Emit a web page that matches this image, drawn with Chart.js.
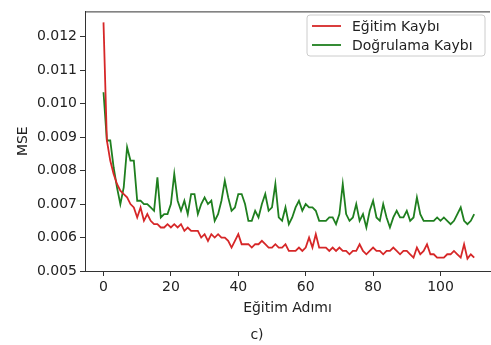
<!DOCTYPE html>
<html>
<head>
<meta charset="utf-8">
<script src="https://cdn.jsdelivr.net/npm/chart.js@4.4.0/dist/chart.umd.min.js"></script>
<style>
  html, body { margin: 0; padding: 0; background: #fff; }
  #wrap { width: 491px; height: 345px; }
</style>
</head>
<body>
<div id="wrap"><canvas id="lossChart" width="491" height="345"></canvas></div>
<script>
// datos
const trainLoss = [
  0.01243, 0.0089, 0.0083, 0.0079, 0.0076, 0.0074, 0.0073, 0.0072, 0.0070, 0.0069,
  0.0066, 0.0069, 0.0065, 0.0067, 0.0065, 0.0064, 0.0064, 0.0063, 0.0063, 0.0064,
  0.0063, 0.0064, 0.0063, 0.0064, 0.0062, 0.0063, 0.0062, 0.0062, 0.0062, 0.0060,
  0.0061, 0.0059, 0.0061, 0.0060, 0.0061, 0.0060, 0.0060, 0.0059, 0.0057, 0.0059,
  0.0061, 0.0058, 0.0058, 0.0058, 0.0057, 0.0058, 0.0058, 0.0059, 0.0058, 0.0057,
  0.0057, 0.0058, 0.0057, 0.0057, 0.0058, 0.0056, 0.0056, 0.0056, 0.0057, 0.0056,
  0.0057, 0.0060, 0.0057, 0.0061, 0.0057, 0.0057, 0.0057, 0.0056, 0.0057, 0.0056,
  0.0057, 0.0056, 0.0056, 0.0055, 0.0056, 0.0056, 0.0058, 0.0056, 0.0055, 0.0056,
  0.0057, 0.0056, 0.0056, 0.0055, 0.0056, 0.0056, 0.0057, 0.0056, 0.0055, 0.0056,
  0.0056, 0.0055, 0.0054, 0.0057, 0.0055, 0.0056, 0.0058, 0.0055, 0.0055, 0.0054,
  0.0054, 0.0054, 0.0055, 0.0055, 0.0056, 0.0055, 0.0054, 0.0058, 0.00537, 0.0055,
  0.0054
];
const valLoss = [
  0.01034, 0.0089, 0.0089, 0.0081, 0.0075, 0.0070, 0.0075, 0.0087, 0.0083, 0.0083,
  0.0071, 0.0071, 0.0070, 0.0070, 0.0069, 0.0068, 0.0078, 0.0066, 0.0067, 0.0067,
  0.0070, 0.0079, 0.0071, 0.0068, 0.0071, 0.0067, 0.0073, 0.0073, 0.0067, 0.0070,
  0.0072, 0.0070, 0.0071, 0.0065, 0.0067, 0.0071, 0.0077, 0.0072, 0.0068, 0.0069,
  0.0073, 0.0073, 0.0070, 0.0065, 0.0065, 0.0068, 0.0066, 0.0070, 0.0073, 0.0068,
  0.0069, 0.0076, 0.0066, 0.0065, 0.0069, 0.0064, 0.0066, 0.0069, 0.0071, 0.0068,
  0.0070, 0.0069, 0.0069, 0.0068, 0.0065, 0.0065, 0.0065, 0.0066, 0.0066, 0.0064,
  0.0067, 0.0076, 0.0067, 0.0065, 0.0066, 0.0070, 0.0065, 0.0067, 0.0063, 0.0068,
  0.0071, 0.0066, 0.0065, 0.0070, 0.0066, 0.0063, 0.0066, 0.0068, 0.0066, 0.0066,
  0.0068, 0.0065, 0.0066, 0.0072, 0.0067, 0.0065, 0.0065, 0.0065, 0.0065, 0.0066,
  0.0065, 0.0066, 0.0065, 0.0064, 0.0065, 0.0067, 0.0069, 0.0065, 0.0064, 0.0065,
  0.0067
];
const steps = trainLoss.map((v, i) => i);
const xTicks = [0, 20, 40, 60, 80, 100];
const yTicks = [0.005, 0.006, 0.007, 0.008, 0.009, 0.010, 0.011, 0.012];
const seriesNames = ['Eğitim Kaybı', 'Doğrulama Kaybı'];

const RED = '#d62728';
const GREEN = '#1f7f1f';
const FONT = { family: "'DejaVu Sans', sans-serif", size: 14 };
const TXT = '#222';

// leyenda y "c)" dibujados a mano
const extras = {
    id: 'extras',
    afterDraw(chart) {
        const ctx = chart.ctx;
        const a = chart.chartArea;
        ctx.save();
        // borde superior
        ctx.strokeStyle = '#333';
        ctx.lineWidth = 1;
        ctx.beginPath();
        ctx.moveTo(a.left, a.top + 0.5);
        ctx.lineTo(a.right, a.top + 0.5);
        ctx.stroke();

        // caja de leyenda
        const bx = 307, by = 15, bw = 178, bh = 41, r = 3;
        ctx.fillStyle = 'rgba(255,255,255,0.85)';
        ctx.strokeStyle = '#cccccc';
        ctx.beginPath();
        ctx.moveTo(bx + r, by);
        ctx.arcTo(bx + bw, by, bx + bw, by + bh, r);
        ctx.arcTo(bx + bw, by + bh, bx, by + bh, r);
        ctx.arcTo(bx, by + bh, bx, by, r);
        ctx.arcTo(bx, by, bx + bw, by, r);
        ctx.closePath();
        ctx.fill();
        ctx.stroke();

        const colors = [RED, GREEN];
        ctx.font = "14px 'DejaVu Sans', sans-serif";
        ctx.textBaseline = 'middle';
        ctx.textAlign = 'left';
        seriesNames.forEach((name, k) => {
            const y = 26 + k * 19;
            ctx.strokeStyle = colors[k];
            ctx.lineWidth = 1.8;
            ctx.beginPath();
            ctx.moveTo(312, y);
            ctx.lineTo(341, y);
            ctx.stroke();
            ctx.fillStyle = TXT;
            ctx.fillText(name, 352, y + 1);
        });

        ctx.textAlign = 'center';
        ctx.fillText('c)', 257, 335);
        ctx.restore();
    }
};

new Chart(document.getElementById('lossChart'), {
    type: 'line',
    data: {
        datasets: [
            {
                label: seriesNames[0],
                data: trainLoss.map((v, i) => ({ x: steps[i], y: v })),
                borderColor: RED,
                borderWidth: 1.8,
                pointRadius: 0,
                tension: 0,
                fill: false
            },
            {
                label: seriesNames[1],
                data: valLoss.map((v, i) => ({ x: steps[i], y: v })),
                borderColor: GREEN,
                borderWidth: 1.8,
                pointRadius: 0,
                tension: 0,
                fill: false
            }
        ]
    },
    options: {
        responsive: false,
        animation: false,
        layout: { padding: { top: 8, right: 1, bottom: 0, left: 0 } },
        plugins: {
            legend: { display: false },
            tooltip: { enabled: false }
        },
        scales: {
            x: {
                type: 'linear',
                min: -5.49,
                max: 114.69,
                afterBuildTicks: s => { s.ticks = xTicks.map(v => ({ value: v })); },
                afterFit: s => { s.height = 74; },
                ticks: { font: FONT, color: TXT, padding: 3, maxRotation: 0, autoSkip: false },
                grid: { drawOnChartArea: false, drawTicks: true, tickLength: 5, color: '#333' },
                border: { display: true, color: '#333', width: 1 },
                title: { display: true, text: 'Eğitim Adımı', font: FONT, color: TXT, padding: { top: 0, bottom: 28.6 } }
            },
            y: {
                min: 0.005,
                max: 0.012758,
                afterBuildTicks: s => { s.ticks = yTicks.map(v => ({ value: v })); },
                afterFit: s => { s.width = 85; },
                ticks: {
                    font: FONT, color: TXT, padding: 3, autoSkip: false,
                    callback: v => v.toFixed(3)
                },
                grid: { drawOnChartArea: false, drawTicks: true, tickLength: 5, color: '#333' },
                border: { display: true, color: '#333', width: 1 },
                title: { display: true, text: 'MSE', font: FONT, color: TXT, padding: { top: 14.6, bottom: 0 } }
            }
        }
    },
    plugins: [extras]
});
</script>
</body>
</html>
